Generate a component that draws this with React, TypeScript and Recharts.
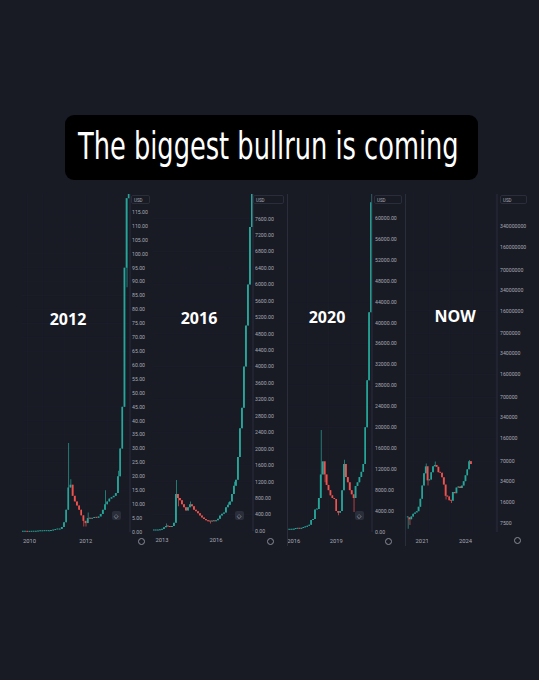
import React, { useLayoutEffect, useRef, useState } from "react";
import { ComposedChart, Bar, Cell, XAxis, YAxis, CartesianGrid } from "recharts";

// ---- data (weekly-ish candles, open = previous close) ----

// 2012 cycle
const C2012_CLOSE = [
  0.06, 0.07, 0.06, 0.08, 0.1, 0.1, 0.2, 0.25, 0.25, 0.3, 0.3, 0.3, 0.4, 0.5, 0.7, 0.9, 0.9, 1.1,
  1.8, 3.5, 8, 16, 17, 13, 11, 9.5, 8, 6, 4, 3.2, 5, 4.8, 5, 5.3, 5.1, 5.6, 6.5, 8, 10, 11, 12,
  12.5, 13, 14, 20, 30, 45, 95, 120, 230,
];
const C2012_HIGH: [number, number][] = [[21, 32], [22, 19], [30, 7], [38, 15], [44, 22]];
const C2012_LOW: [number, number][] = [[21, 8], [28, 2], [29, 2], [48, 88]];
const C2012_YEARS: [number, string][] = [[3, "2010"], [29, "2012"]];
const C2012_TICKS = [0, 5, 10, 15, 20, 25, 30, 35, 40, 45, 50, 55, 60, 65, 70, 75, 80, 85, 90, 95, 100, 105, 110, 115];

// 2016 cycle
const C2016_CLOSE = [
  12, 13, 20, 30, 50, 90, 120, 110, 100, 120, 200, 900, 800, 750, 650, 580, 500, 580, 650, 600,
  520, 480, 430, 380, 330, 290, 260, 240, 230, 250, 240, 260, 300, 380, 420, 450, 580, 640, 720,
  900, 1100, 1250, 1800, 2500, 3000, 4000, 5000, 6000, 7400, 11000,
];
const C2016_HIGH: [number, number][] = [[6, 180], [11, 1240], [18, 720], [37, 700], [40, 1200]];
const C2016_LOW: [number, number][] = [[12, 600], [28, 180]];
const C2016_YEARS: [number, string][] = [[4, "2013"], [31, "2016"]];
const C2016_TICKS = [
  0, 400, 800, 1200, 1600, 2000, 2400, 2800, 3200, 3600, 4000, 4400, 4800, 5200, 5600, 6000, 6400,
  6800, 7200, 7600,
];

// 2020 cycle
const C2020_CLOSE = [
  420, 430, 450, 580, 620, 680, 620, 750, 900, 1000, 1200, 1400, 2300, 2500, 4300, 4400, 6500,
  11000, 13500, 11000, 9000, 8000, 7000, 6500, 6300, 4000, 3700, 4000, 8000, 13000, 10500, 9500,
  8000, 7200, 6500, 8800, 9500, 10500, 11500, 13000, 20000, 29000, 42000, 63000,
];
const C2020_HIGH: [number, number][] = [[17, 19500], [29, 13800], [43, 70000]];
const C2020_LOW: [number, number][] = [[19, 9500], [26, 3200], [34, 3800]];
const C2020_YEARS: [number, string][] = [[3, "2016"], [25, "2019"]];
const C2020_TICKS = [
  0, 4000, 8000, 12000, 16000, 20000, 24000, 28000, 32000, 36000, 40000, 44000, 48000, 52000,
  56000, 60000,
];

// now
const NOW_CLOSE = [
  9200, 8600, 9500, 10500, 11000, 11500, 13500, 18000, 29000, 45000, 58000, 35000, 36000, 47000,
  58000, 61000, 57000, 47000, 46000, 39000, 30000, 20000, 19500, 17000, 16800, 23000, 22000,
  27000, 28000, 26500, 29000, 34000, 42000, 52000, 70000, 63000,
];
const NOW_HIGH: [number, number][] = [[10, 64000], [15, 69000], [34, 73000]];
const NOW_LOW: [number, number][] = [[0, 6100], [1, 7000], [11, 29000], [21, 17500], [24, 15500]];
const NOW_YEARS: [number, string][] = [[8, "2021"], [32, "2024"]];
const NOW_TICKS = [
  7500, 16000, 34000, 70000, 160000, 340000, 700000, 1600000, 3400000, 7000000, 16000000,
  34000000, 70000000, 160000000, 340000000,
];

const TITLE = "The biggest bullrun is coming";

const BG = "#181a24";
const UP = "#26a69a";
const DOWN = "#ef5350";
const AXIS_TEXT = "#a7aab4";
const BORDER = "#2a2d3a";

type Candle = { i: number; body: number[]; wick: number[]; up: boolean };

function buildCandles(closes: number[], highs: [number, number][], lows: [number, number][]): Candle[] {
  const hi = new Map(highs);
  const lo = new Map(lows);
  return closes.map((c, i) => {
    const o = i === 0 ? c : closes[i - 1];
    const top = Math.max(o, c);
    const bot = Math.min(o, c);
    return {
      i,
      body: [bot, top],
      wick: [Math.min(bot, lo.get(i) ?? bot), Math.max(top, hi.get(i) ?? top)],
      up: c >= o,
    };
  });
}

interface PanelProps {
  data: Candle[];
  left: number;
  top: number;
  plotW: number;
  plotH: number;
  axisW: number;
  xDomain: number[];
  yDomain: number[];
  yTicks: number[];
  years: [number, string][];
  log?: boolean;
  fmt: (v: number) => string;
  tickMargin: number;
}

const CandlePanel: React.FC<PanelProps> = ({
  data, left, top, plotW, plotH, axisW, xDomain, yDomain, yTicks, years, log, fmt, tickMargin,
}) => {
  const yearMap = new Map(years);
  return (
    <div style={{ position: "absolute", left, top }}>
      <ComposedChart
        width={plotW + axisW}
        height={plotH + 14}
        data={data}
        margin={{ top: 0, right: 0, bottom: 0, left: 0 }}
      >
        <CartesianGrid stroke="#1c1f2b" strokeWidth={0.6} />
        <XAxis
          xAxisId="b"
          type="number"
          dataKey="i"
          domain={xDomain}
          allowDataOverflow
          ticks={years.map((y) => y[0])}
          interval={0}
          tickFormatter={(v: number) => yearMap.get(v) ?? ""}
          axisLine={false}
          tickLine={false}
          tickSize={0}
          tickMargin={7}
          height={14}
          tick={{ fill: AXIS_TEXT, fontSize: 5.8, fontFamily: "Roboto" }}
        />
        <XAxis xAxisId="w" type="number" dataKey="i" domain={xDomain} allowDataOverflow hide />
        <YAxis
          orientation="right"
          width={axisW}
          scale={log ? "log" : "auto"}
          domain={yDomain}
          allowDataOverflow
          ticks={yTicks}
          interval={0}
          tickFormatter={fmt}
          axisLine={{ stroke: BORDER }}
          tickLine={false}
          tickSize={0}
          tickMargin={tickMargin}
          tick={{ fill: AXIS_TEXT, fontSize: 5.2, fontFamily: "Roboto", textAnchor: "start" }}
        />
        <Bar xAxisId="w" dataKey="wick" barSize={0.7} isAnimationActive={false}>
          {data.map((d) => (
            <Cell key={d.i} fill={d.up ? UP : DOWN} />
          ))}
        </Bar>
        <Bar xAxisId="b" dataKey="body" barSize={1.7} minPointSize={1} isAnimationActive={false}>
          {data.map((d) => (
            <Cell key={d.i} fill={d.up ? UP : DOWN} />
          ))}
        </Bar>
      </ComposedChart>
    </div>
  );
};

// title squeezed horizontally to the width it has in the picture
const Title = () => {
  const ref = useRef<HTMLSpanElement>(null);
  const [sx, setSx] = useState(1);
  useLayoutEffect(() => {
    if (ref.current) setSx(381 / ref.current.offsetWidth);
  }, []);
  return (
    <div
      style={{
        position: "absolute", left: 65, top: 115, width: 413, height: 65, background: "#000",
        borderRadius: 9, overflow: "visible",
      }}
    >
      <span
        ref={ref}
        style={{
          position: "absolute", left: 13, top: 10, whiteSpace: "nowrap", color: "#fff",
          fontFamily: "'Liberation Sans Narrow', 'DejaVu Sans Condensed', sans-serif",
          fontSize: 37, lineHeight: "44px", transformOrigin: "0 0", transform: `scaleX(${sx})`,
        }}
      >
        {TITLE}
      </span>
    </div>
  );
};

const UsdBox = ({ x, w }: { x: number; w: number }) => (
  <div
    style={{
      position: "absolute", left: x, top: 195, width: w, height: 9, border: `1px solid ${BORDER}`,
      borderRadius: 2, color: AXIS_TEXT, fontSize: 4.5, fontFamily: "Roboto", lineHeight: "9px",
      paddingLeft: 2, boxSizing: "border-box",
    }}
  >
    USD
  </div>
);

const Gear = ({ x, y }: { x: number; y: number }) => (
  <div
    style={{
      position: "absolute", left: x - 3.5, top: y - 3.5, width: 7, height: 7, borderRadius: "50%",
      border: `1px solid #8a8d97`, boxSizing: "border-box",
    }}
  />
);

const Pin = ({ x, y }: { x: number; y: number }) => (
  <div
    style={{
      position: "absolute", left: x - 4.5, top: y - 4.5, width: 9, height: 9, borderRadius: 2,
      background: "#2a2d3a", color: "#c9ccd4", fontSize: 6, lineHeight: "9px", textAlign: "center",
      fontFamily: "DejaVu Sans",
    }}
  >
    ◇
  </div>
);

const Era = ({ x, y, text }: { x: number; y: number; text: string }) => (
  <div
    style={{
      position: "absolute", left: x - 30, top: y - 11, width: 60, textAlign: "center", color: "#ffffff",
      fontFamily: "Open Sans", fontWeight: 700, fontSize: 16, lineHeight: "22px",
    }}
  >
    {text}
  </div>
);

const fixed2 = (v: number) => v.toFixed(2);
const plain = (v: number) => String(v);

export default function App() {
  const d2012 = buildCandles(C2012_CLOSE, C2012_HIGH, C2012_LOW);
  const d2016 = buildCandles(C2016_CLOSE, C2016_HIGH, C2016_LOW);
  const d2020 = buildCandles(C2020_CLOSE, C2020_HIGH, C2020_LOW);
  const dNow = buildCandles(NOW_CLOSE, NOW_HIGH, NOW_LOW);

  return (
    <div
      style={{
        position: "absolute", left: 0, top: 0, width: 539, height: 680, background: BG, overflow: "hidden",
      }}
    >
      <Title />

      <CandlePanel
        data={d2012} left={22} top={194} plotW={108} plotH={338} axisW={26}
        xDomain={[-0.5, 49.5]} yDomain={[0, 121.5]} yTicks={C2012_TICKS} years={C2012_YEARS}
        fmt={fixed2} tickMargin={2}
      />
      <CandlePanel
        data={d2016} left={153} top={194} plotW={100} plotH={337} axisW={32}
        xDomain={[-0.5, 49.5]} yDomain={[0, 8200]} yTicks={C2016_TICKS} years={C2016_YEARS}
        fmt={fixed2} tickMargin={2}
      />
      <CandlePanel
        data={d2020} left={287} top={194} plotW={85} plotH={338} axisW={30}
        xDomain={[-0.5, 43.5]} yDomain={[0, 64600]} yTicks={C2020_TICKS} years={C2020_YEARS}
        fmt={fixed2} tickMargin={3}
      />
      <CandlePanel
        data={dNow} left={405} top={194} plotW={92} plotH={338} axisW={34}
        xDomain={[-1.5, 49.5]} yDomain={[5420, 1080000000]} yTicks={NOW_TICKS} years={NOW_YEARS}
        log fmt={plain} tickMargin={3}
      />

      {/* screenshot separators */}
      <div style={{ position: "absolute", left: 287, top: 194, width: 1, height: 352, background: BORDER }} />
      <div style={{ position: "absolute", left: 405, top: 194, width: 1, height: 352, background: BORDER }} />

      <UsdBox x={131} w={19} />
      <UsdBox x={253} w={31} />
      <UsdBox x={374} w={28} />
      <UsdBox x={500} w={27} />

      <Pin x={116} y={515} />
      <Pin x={239} y={515} />
      <Pin x={359} y={515} />

      <Gear x={141} y={541} />
      <Gear x={270} y={541} />
      <Gear x={388} y={541} />
      <Gear x={517} y={540} />

      <Era x={68} y={319} text="2012" />
      <Era x={199} y={318} text="2016" />
      <Era x={327} y={317} text="2020" />
      <Era x={455} y={316} text="NOW" />
    </div>
  );
}
